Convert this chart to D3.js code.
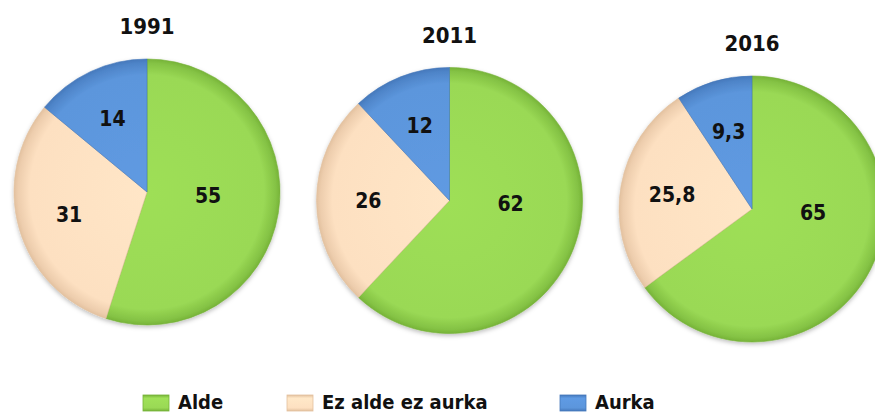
<!DOCTYPE html>
<html>
<head>
<meta charset="utf-8">
<script src="https://cdn.jsdelivr.net/npm/d3@7"></script>
<style>
  html, body { margin: 0; padding: 0; background: #fff; }
  #chart { width: 875px; height: 414px; overflow: hidden; }
</style>
</head>
<body>
<div id="chart"></div>
<script>
// data
const years = ['1991', '2011', '2016']
const categories = ['Alde', 'Ez alde ez aurka', 'Aurka']
const alde = [55, 62, 65]
const ezAldeEzAurka = [31, 26, 25.8]
const aurka = [14, 12, 9.3]

const width = 875
const height = 414
const radius = 133
const font = '"DejaVu Sans Condensed", "DejaVu Sans", sans-serif'

const colors = ['#9ad955', '#fde0c1', '#5c96dc']
const rims = ['#76b338', '#e3c19f', '#4578bb']

const svg = d3.select('#chart').append('svg')
    .attr('width', width)
    .attr('height', height)
    .attr('viewBox', `0 0 ${width} ${height}`)

const defs = svg.append('defs')

// gradients: flat middle, darker rim
colors.forEach((c, i) => {
    const g = defs.append('radialGradient')
        .attr('id', 'grad' + i)
        .attr('gradientUnits', 'userSpaceOnUse')
        .attr('cx', 0).attr('cy', 0).attr('r', radius)
    g.append('stop').attr('offset', '0%').attr('stop-color', d3.color(c).brighter(0.08))
    g.append('stop').attr('offset', '88%').attr('stop-color', c)
    g.append('stop').attr('offset', '97%').attr('stop-color', d3.interpolateRgb(c, rims[i])(0.6))
    g.append('stop').attr('offset', '100%').attr('stop-color', rims[i])

    const lg = defs.append('linearGradient')
        .attr('id', 'lgrad' + i)
        .attr('x1', 0).attr('y1', 0).attr('x2', 0).attr('y2', 1)
    lg.append('stop').attr('offset', '0%').attr('stop-color', rims[i])
    lg.append('stop').attr('offset', '20%').attr('stop-color', d3.color(c).brighter(0.1))
    lg.append('stop').attr('offset', '80%').attr('stop-color', c)
    lg.append('stop').attr('offset', '100%').attr('stop-color', rims[i])
})

const shadow = defs.append('filter')
    .attr('id', 'shadow')
    .attr('x', '-10%').attr('y', '-10%')
    .attr('width', '120%').attr('height', '125%')
shadow.append('feDropShadow')
    .attr('dx', 0).attr('dy', 2)
    .attr('stdDeviation', 2)
    .attr('flood-color', '#000')
    .attr('flood-opacity', 0.25)

const xScale = d3.scalePoint()
    .domain(years)
    .range([147, 752])
const yScale = d3.scalePoint()
    .domain(years)
    .range([192, 209])

const pie = d3.pie().sort(null).value(d => d)
const arc = d3.arc().innerRadius(0).outerRadius(radius)

const locale = d3.formatLocale({ decimal: ',', thousands: '.', grouping: [3], currency: ['', '€'] })
const fmt = v => Number.isInteger(v) ? String(v) : locale.format('.1f')(v)

years.forEach((year, yi) => {
    const values = [alde[yi], ezAldeEzAurka[yi], aurka[yi]]
    const cx = xScale(year)
    const cy = yScale(year)
    const g = svg.append('g')
        .attr('transform', `translate(${cx}, ${cy})`)

    g.append('text')
        .attr('x', 0)
        .attr('y', -radius - 25)
        .attr('text-anchor', 'middle')
        .attr('font-family', font)
        .attr('font-weight', 'bold')
        .attr('font-size', 22)
        .attr('fill', '#111')
        .text(year)

    const arcs = pie(values)

    g.append('g')
        .attr('filter', 'url(#shadow)')
        .selectAll('path')
        .data(arcs)
        .join('path')
        .attr('d', arc)
        .attr('fill', (d, i) => `url(#grad${i})`)
        .attr('stroke', (d, i) => rims[i])
        .attr('stroke-opacity', 0.6)
        .attr('stroke-width', 1)

    // labels: small slices at centroid, large slice near the horizontal
    g.append('g')
        .selectAll('text')
        .data(arcs)
        .join('text')
        .attr('transform', d => {
            let mid = (d.startAngle + d.endAngle) / 2
            let r = radius * 0.61
            if (d.value > 50) {
                mid = Math.min(mid, 93 * Math.PI / 180)
                r = radius * 0.46
            }
            return `translate(${Math.sin(mid) * r}, ${-Math.cos(mid) * r})`
        })
        .attr('text-anchor', 'middle')
        .attr('dy', '0.36em')
        .attr('font-family', font)
        .attr('font-weight', 'bold')
        .attr('font-size', 21)
        .attr('fill', '#111')
        .text(d => fmt(d.value))
})

// legend
const legendX = d3.scaleOrdinal()
    .domain(categories)
    .range([143, 287, 560])

const legend = svg.append('g')
    .selectAll('g')
    .data(categories)
    .join('g')
    .attr('transform', d => `translate(${legendX(d)}, 395)`)

legend.append('rect')
    .attr('width', 26)
    .attr('height', 16)
    .attr('fill', (d, i) => `url(#lgrad${i})`)
    .attr('stroke', (d, i) => rims[i])
    .attr('stroke-width', 0.8)

legend.append('text')
    .attr('x', 35)
    .attr('y', 14)
    .attr('font-family', font)
    .attr('font-weight', 'bold')
    .attr('font-size', 20)
    .attr('fill', '#111')
    .text(d => d)
</script>
</body>
</html>
